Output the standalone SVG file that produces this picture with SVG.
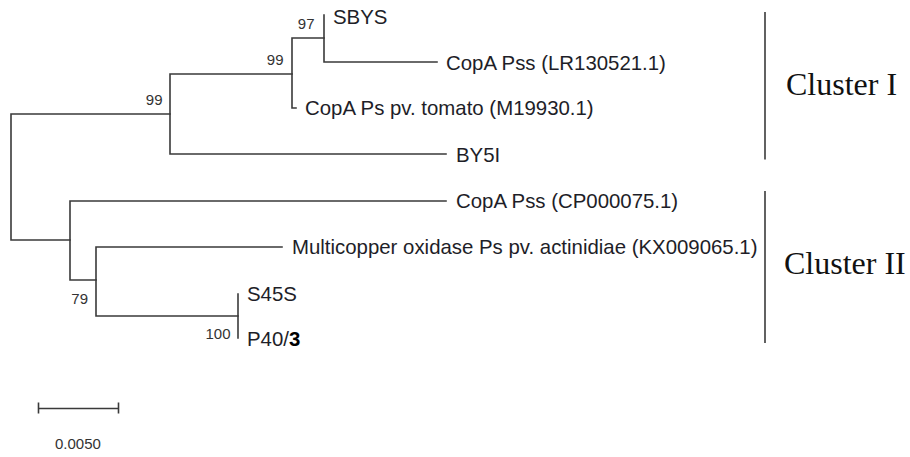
<svg xmlns="http://www.w3.org/2000/svg" width="910" height="457" viewBox="0 0 910 457">
<style>
.br{fill:none;stroke:#3a3a3a;stroke-width:1.6;stroke-linecap:square}
.lf{font-family:"Liberation Sans",Arial,sans-serif;font-size:20.4px;fill:#1e1e28}
.bs{font-family:"Liberation Sans",Arial,sans-serif;font-size:15px;fill:#333;text-anchor:end}
.cl{font-family:"Liberation Serif","Times New Roman",serif;font-size:32px;fill:#111}
.bar{stroke:#3a3a3a;stroke-width:1.6;fill:none}
</style>
<rect width="910" height="457" fill="#fff"/>
<g id="connectors">
<path class="br" d="M11,114V240M11,114H170M11,240H70"/>
<path class="br" d="M170,74V154M170,74H292M170,154H446"/>
<path class="br" d="M292,38V108M292,38H324M292,108H296"/>
<path class="br" d="M324,15V62M324,62H437"/>
<path class="br" d="M70,201V280M70,201H446M70,280H96"/>
<path class="br" d="M96,247V316M96,247H282M96,316H238"/>
<path class="br" d="M238,294V338"/>
</g>
<g id="node-root"/>
<g id="node-99a"><text class="bs" x="162.5" y="104.5">99</text></g>
<g id="node-99b"><text class="bs" x="283.5" y="65">99</text></g>
<g id="node-97"><text class="bs" x="314.5" y="29">97</text></g>
<g id="node-79"><text class="bs" x="88" y="304">79</text></g>
<g id="node-100"><text class="bs" x="230.5" y="338.5">100</text></g>
<g id="leaf-SBYS"><text class="lf" x="333" y="23.5">SBYS</text></g>
<g id="leaf-LR130521"><text class="lf" x="446" y="69.5">CopA Pss (LR130521.1)</text></g>
<g id="leaf-M19930"><text class="lf" x="305" y="115">CopA Ps pv. tomato (M19930.1)</text></g>
<g id="leaf-BY5I"><text class="lf" x="456" y="161.5">BY5I</text></g>
<g id="leaf-CP000075"><text class="lf" x="456" y="208">CopA Pss (CP000075.1)</text></g>
<g id="leaf-KX009065"><text class="lf" x="292" y="254">Multicopper oxidase Ps pv. actinidiae (KX009065.1)</text></g>
<g id="leaf-S45S"><text class="lf" x="247" y="301">S45S</text></g>
<g id="leaf-P40-3"><text class="lf" x="247" y="345.5">P40/<tspan font-weight="bold" fill="#000">3</tspan></text></g>
<g id="cluster-I"><line class="bar" x1="765" y1="12" x2="765" y2="159.5"/><text class="cl" x="786" y="95">Cluster I</text></g>
<g id="cluster-II"><line class="bar" x1="765" y1="191" x2="765" y2="343"/><text class="cl" x="784" y="274">Cluster II</text></g>
<g id="scale-bar">
<path class="bar" d="M38.5,408.5H118.5M38.5,402.5V413.5M118.5,402.5V413.5"/>
<text class="bs" x="55" y="449" style="text-anchor:start">0.0050</text>
</g>
</svg>
